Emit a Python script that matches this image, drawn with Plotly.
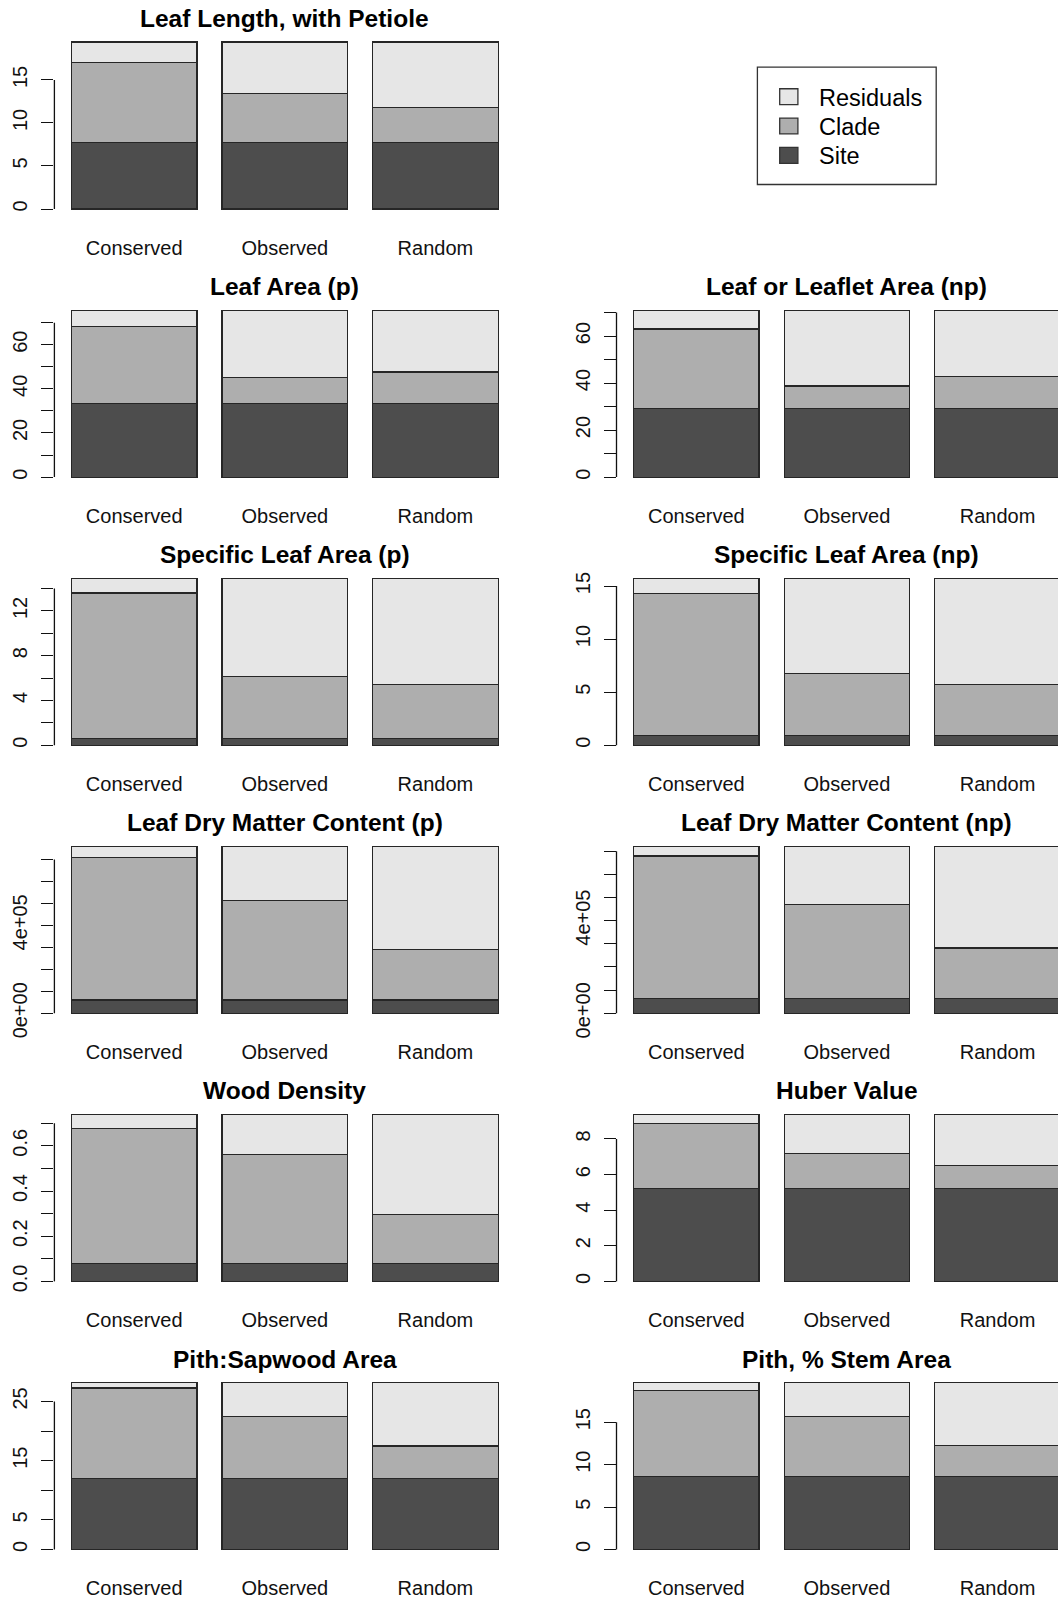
import plotly.graph_objects as go

# ---------------- data ----------------
categories = ["Conserved", "Observed", "Random"]
components = ["Site", "Clade", "Residuals"]
component_colors = ["#4D4D4D", "#AEAEAE", "#E6E6E6"]

panel_titles = [
    "Leaf Length, with Petiole",
    "Leaf Area (p)",
    "Leaf or Leaflet Area (np)",
    "Specific Leaf Area (p)",
    "Specific Leaf Area (np)",
    "Leaf Dry Matter Content (p)",
    "Leaf Dry Matter Content (np)",
    "Wood Density",
    "Huber Value",
    "Pith:Sapwood Area",
    "Pith, % Stem Area",
]
# (row, column) of each panel in the 6 x 2 grid
panel_cells = [(0, 0), (1, 0), (1, 1), (2, 0), (2, 1), (3, 0), (3, 1),
               (4, 0), (4, 1), (5, 0), (5, 1)]

site_values = [
    [7.77, 7.77, 7.77],
    [33.4, 33.4, 33.4],
    [29.1, 29.1, 29.1],
    [0.61, 0.61, 0.61],
    [0.90, 0.90, 0.90],
    [61000, 61000, 61000],
    [64000, 64000, 64000],
    [0.078, 0.078, 0.078],
    [5.20, 5.20, 5.20],
    [11.93, 11.93, 11.93],
    [8.63, 8.63, 8.63],
]
clade_values = [
    [9.30, 5.67, 4.07],
    [35.0, 11.8, 14.2],
    [33.9, 9.7, 13.7],
    [12.98, 5.56, 4.80],
    [13.43, 5.83, 4.81],
    [648000, 452000, 231000],
    [615000, 406000, 218000],
    [0.600, 0.484, 0.217],
    [3.69, 2.00, 1.32],
    [15.35, 10.56, 5.54],
    [10.12, 7.02, 3.67],
]
residual_values = [
    [2.34, 5.97, 7.57],
    [7.3, 30.5, 28.1],
    [8.05, 32.25, 28.25],
    [1.33, 8.75, 9.51],
    [1.41, 9.01, 10.03],
    [51000, 247000, 468000],
    [42000, 251000, 439000],
    [0.061, 0.177, 0.444],
    [0.49, 2.18, 2.86],
    [0.92, 5.71, 10.73],
    [0.93, 4.03, 7.38],
]

tick_values = [
    [0, 5, 10, 15],
    [0, 10, 20, 30, 40, 50, 60, 70],
    [0, 10, 20, 30, 40, 50, 60, 70],
    [0, 2, 4, 6, 8, 10, 12, 14],
    [0, 5, 10, 15],
    [0, 1e5, 2e5, 3e5, 4e5, 5e5, 6e5, 7e5],
    [0, 1e5, 2e5, 3e5, 4e5, 5e5, 6e5, 7e5],
    [0, 0.1, 0.2, 0.3, 0.4, 0.5, 0.6, 0.7],
    [0, 2, 4, 6, 8],
    [0, 5, 10, 15, 20, 25],
    [0, 5, 10, 15],
]
tick_labels = [
    ["0", "5", "10", "15"],
    ["0", "", "20", "", "40", "", "60", ""],
    ["0", "", "20", "", "40", "", "60", ""],
    ["0", "", "4", "", "8", "", "12", ""],
    ["0", "5", "10", "15"],
    ["0e+00", "", "", "", "4e+05", "", "", ""],
    ["0e+00", "", "", "", "4e+05", "", "", ""],
    ["0.0", "", "0.2", "", "0.4", "", "0.6", ""],
    ["0", "2", "4", "6", "8"],
    ["0", "5", "", "15", "", "25"],
    ["0", "5", "10", "15"],
]

# ---------------- geometry (page pixels) ----------------
W, H = 1058, 1602
FONT = "Liberation Sans, Arial, Helvetica, sans-serif"
col_left_px = [54.4, 616.5]
cat_px = 150.6
cat_lo = -0.53
cat_hi_full = 2.53
bar_bottom0 = 209.0
row_step = 268.1
bar_px = 167.0
pad = 0.04
EDGE = "#262626"


def px_x(v):
    return v / W


def px_y(v):
    return 1 - v / H


fig = go.Figure()
layout_axes = {}
shapes = []
annotations = []

for i, title in enumerate(panel_titles):
    r, c = panel_cells[i]
    n = i + 1
    xname = "x" if n == 1 else f"x{n}"
    yname = "y" if n == 1 else f"y{n}"

    stacks = [site_values[i], clade_values[i], residual_values[i]]
    for comp, vals, colr in zip(components, stacks, component_colors):
        fig.add_trace(go.Bar(
            x=categories, y=vals, name=comp,
            marker=dict(color=colr, line=dict(color=EDGE, width=1.2)),
            xaxis=xname, yaxis=yname,
            legendgroup=comp, showlegend=False,
            hovertemplate="%{x}<br>" + comp + ": %{y}<extra></extra>",
        ))

    total = max(a + b + d for a, b, d in zip(*stacks))

    x0 = col_left_px[c]
    x1 = min(W, x0 + (cat_hi_full - cat_lo) * cat_px)
    cat_hi = cat_lo + (x1 - x0) / cat_px

    bottom = bar_bottom0 + row_step * r
    y_bot_px = bottom + pad * bar_px
    y_top_px = bottom - bar_px - pad * bar_px

    layout_axes["xaxis" if n == 1 else f"xaxis{n}"] = dict(
        domain=[px_x(x0), px_x(x1)], anchor=yname, range=[cat_lo, cat_hi],
        type="category", showline=False, showgrid=False, zeroline=False,
        ticks="", ticklabelstandoff=18, automargin=False, fixedrange=True,
        tickfont=dict(size=20, color="#111111", family=FONT),
    )
    layout_axes["yaxis" if n == 1 else f"yaxis{n}"] = dict(
        domain=[px_y(y_bot_px), px_y(y_top_px)], anchor=xname,
        range=[-pad * total, (1 + pad) * total],
        showline=False, showgrid=False, zeroline=False,
        ticks="outside", ticklen=12, tickwidth=1.3, tickcolor="#111111",
        tickvals=tick_values[i], ticktext=tick_labels[i], tickangle=-90,
        ticklabelstandoff=6, automargin=False, fixedrange=True,
        tickfont=dict(size=20, color="#111111", family=FONT),
    )
    # R-style axis line from first to last tick
    shapes.append(dict(
        type="line", xref=f"{xname} domain", yref=yname,
        x0=0, x1=0, y0=min(tick_values[i]), y1=max(tick_values[i]),
        line=dict(color="#111111", width=1.3),
    ))
    # panel title
    annotations.append(dict(
        text=f"<b>{title}</b>", xref="paper", yref="paper",
        x=px_x(x0 + (cat_hi_full - cat_lo) * cat_px / 2),
        y=px_y(bottom - bar_px - 23.5),
        xanchor="center", yanchor="middle", showarrow=False,
        font=dict(size=24.5, color="#000000", family=FONT),
    ))

# ---------------- legend box (top-right cell) ----------------
box_l, box_r = 757.4, 936.2
box_t, box_b = 67.1, 184.5
shapes.append(dict(
    type="rect", xref="paper", yref="paper",
    x0=px_x(box_l), x1=px_x(box_r), y0=px_y(box_b), y1=px_y(box_t),
    line=dict(color="#333333", width=1.3), fillcolor="rgba(0,0,0,0)",
))
legend_rows = list(zip(components, component_colors))[::-1]   # Residuals, Clade, Site
row_centers = [96.7, 126.0, 155.4]
sw_l, sw_r, sw_h = 779.7, 797.9, 15.9
text_l = 817.3
for (name, colr), yc in zip(legend_rows, row_centers):
    shapes.append(dict(
        type="rect", xref="paper", yref="paper",
        x0=px_x(sw_l), x1=px_x(sw_r),
        y0=px_y(yc + sw_h / 2), y1=px_y(yc - sw_h / 2),
        line=dict(color="#333333", width=1.3), fillcolor=colr,
    ))
    annotations.append(dict(
        text=name, xref="paper", yref="paper",
        x=px_x(text_l), y=px_y(yc + 1.0),
        xanchor="left", yanchor="middle", showarrow=False,
        font=dict(size=23.5, color="#000000", family=FONT),
    ))

fig.update_layout(
    width=W, height=H,
    margin=dict(l=0, r=0, t=0, b=0),
    paper_bgcolor="white", plot_bgcolor="white",
    barmode="stack", bargap=1 / 6,
    font=dict(family=FONT, color="#000000"),
    showlegend=False,
    shapes=shapes, annotations=annotations,
    **layout_axes,
)

# remove the browser's default 8 px body margin so the figure fills the window exactly
fig.write_html(
    "out.html",
    config={"displayModeBar": False},
    post_script="document.body.style.margin='0px';document.body.style.overflow='hidden';",
)
